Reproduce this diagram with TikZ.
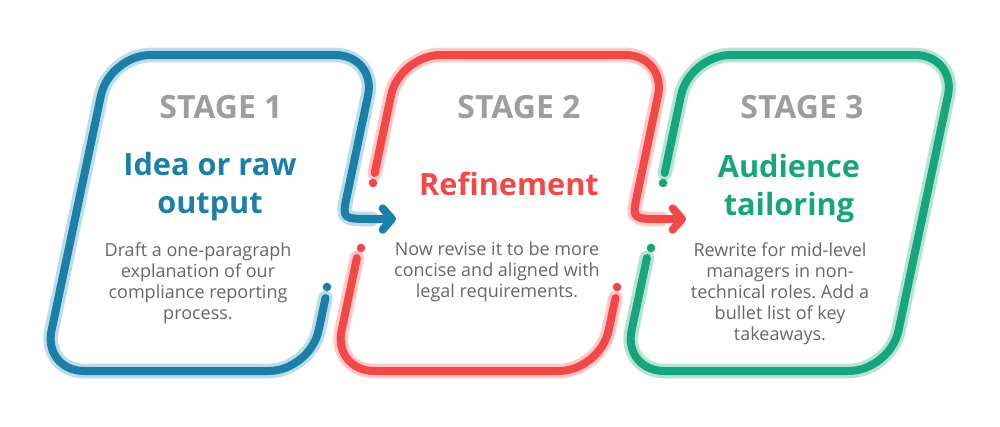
\documentclass[tikz,border=0pt]{standalone}
\usepackage{fontspec}
\setmainfont{Open Sans}
\frenchspacing
\usetikzlibrary{arrows.meta}
\definecolor{stageblue}{HTML}{1B7FA8}
\definecolor{haloblue}{HTML}{BBDDE9}
\definecolor{stagered}{HTML}{F24848}
\definecolor{halored}{HTML}{FFC9C9}
\definecolor{stagegreen}{HTML}{17A67B}
\definecolor{halogreen}{HTML}{B5E4D3}
\definecolor{labelgrey}{HTML}{9E9E9E}
\definecolor{textgrey}{HTML}{666666}
\tikzset{
    halo/.style={draw=#1, line width=11pt, line cap=round, line join=round},
    lane/.style={draw=#1, line width=6pt, line cap=round, line join=round},
    frame/.style={rounded corners=31pt},
    dot/.style={circle, fill=#1, inner sep=0pt, minimum size=6.5pt},
    stagelabel/.style={text=labelgrey, font=\fontsize{24}{28}\selectfont\bfseries, inner sep=0pt},
    stagetitle/.style={text=#1, font=\fontsize{23}{28.5}\selectfont\bfseries, align=center, inner sep=0pt, anchor=north},
    stagetext/.style={text=textgrey, font=\fontsize{13.5}{15.75}\selectfont, align=center, inner sep=0pt, anchor=north}
}
\begin{document}
\begin{tikzpicture}[x=0.75pt, y=-0.75pt]
            \useasboundingbox (0,0) rectangle (1000,426);
            % corners and gap ends of the three slanted frames
            \foreach \i/\dx in {1/0,2/290,3/580} {
                \coordinate (tl\i) at (109.5+\dx,55);
                \coordinate (tr\i) at (376.5+\dx,55);
                \coordinate (br\i) at (310+\dx,371);
                \coordinate (bl\i) at (43+\dx,371);
                \coordinate (ra\i) at (347.1+\dx,195);
                \coordinate (rc\i) at (342.1+\dx,219);
                \coordinate (rh\i) at (372+\dx,219);
                \coordinate (tip\i) at (396+\dx,219);
                \coordinate (rl\i) at (325.5+\dx,298);
                \coordinate (lu\i) at (84.7+\dx,173);
                \coordinate (ll\i) at (66.9+\dx,258);
            }
            % light halos first
            \draw[halo=haloblue, frame] (rl1) -- (br1) -- (bl1) -- (tl1) -- (tr1) -- (ra1);
            \draw[halo=haloblue] (ra1) .. controls (rc1) .. (rh1);
            \draw[halo=halored, frame] (lu2) -- (tl2) -- (tr2) -- (ra2);
            \draw[halo=halored] (ra2) .. controls (rc2) .. (rh2);
            \draw[halo=halored, frame] (ll2) -- (bl2) -- (br2) -- (rl2);
            \draw[halo=halogreen, frame] (lu3) -- (tl3) -- (tr3) -- (br3) -- (bl3) -- (ll3);
            % coloured lanes on top
            \draw[lane=stageblue, frame] (rl1) -- (br1) -- (bl1) -- (tl1) -- (tr1) -- (ra1);
            \draw[lane=stageblue, -{Straight Barb[round,length=7pt,width=16pt]}] (ra1) .. controls (rc1) .. (rh1) -- (tip1);
            \draw[lane=stagered, frame] (lu2) -- (tl2) -- (tr2) -- (ra2);
            \draw[lane=stagered, -{Straight Barb[round,length=7pt,width=16pt]}] (ra2) .. controls (rc2) .. (rh2) -- (tip2);
            \draw[lane=stagered, frame] (ll2) -- (bl2) -- (br2) -- (rl2);
            \draw[lane=stagegreen, frame] (lu3) -- (tl3) -- (tr3) -- (br3) -- (bl3) -- (ll3);
            \node[dot=stageblue] (d1) at (327,287) {};
            \node[dot=stagered] (d2) at (617,287) {};
            \node[dot=stagered] (d3) at (373,183) {};
            \node[dot=stagered] (d4) at (361,248) {};
            \node[dot=stagegreen] (d5) at (663,183) {};
            \node[dot=stagegreen] (d6) at (651,248) {};
            \node[stagelabel] (lab1) at (221,107) {STAGE 1};
            \node[stagelabel] (lab2) at (519,107) {STAGE 2};
            \node[stagelabel] (lab3) at (802,107) {STAGE 3};
            \node[stagetitle=stageblue] (tit1) at (210,152) {Idea or raw\\output};
            \node[stagetitle=stagered] (tit2) at (509,172) {Refinement};
            \node[stagetitle=stagegreen] (tit3) at (789,154) {Audience\\tailoring};
            \node[stagetext] (txt1) at (198,242) {Draft a one-paragraph\\explanation of our\\compliance reporting\\process.};
            \node[stagetext] (txt2) at (497,242) {Now revise it to be more\\concise and aligned with\\legal requirements.};
            \node[stagetext] (txt3) at (780,242) {Rewrite for mid-level\\managers in non-\\technical roles. Add a\\bullet list of key\\takeaways.};
        \end{tikzpicture}
\end{document}
